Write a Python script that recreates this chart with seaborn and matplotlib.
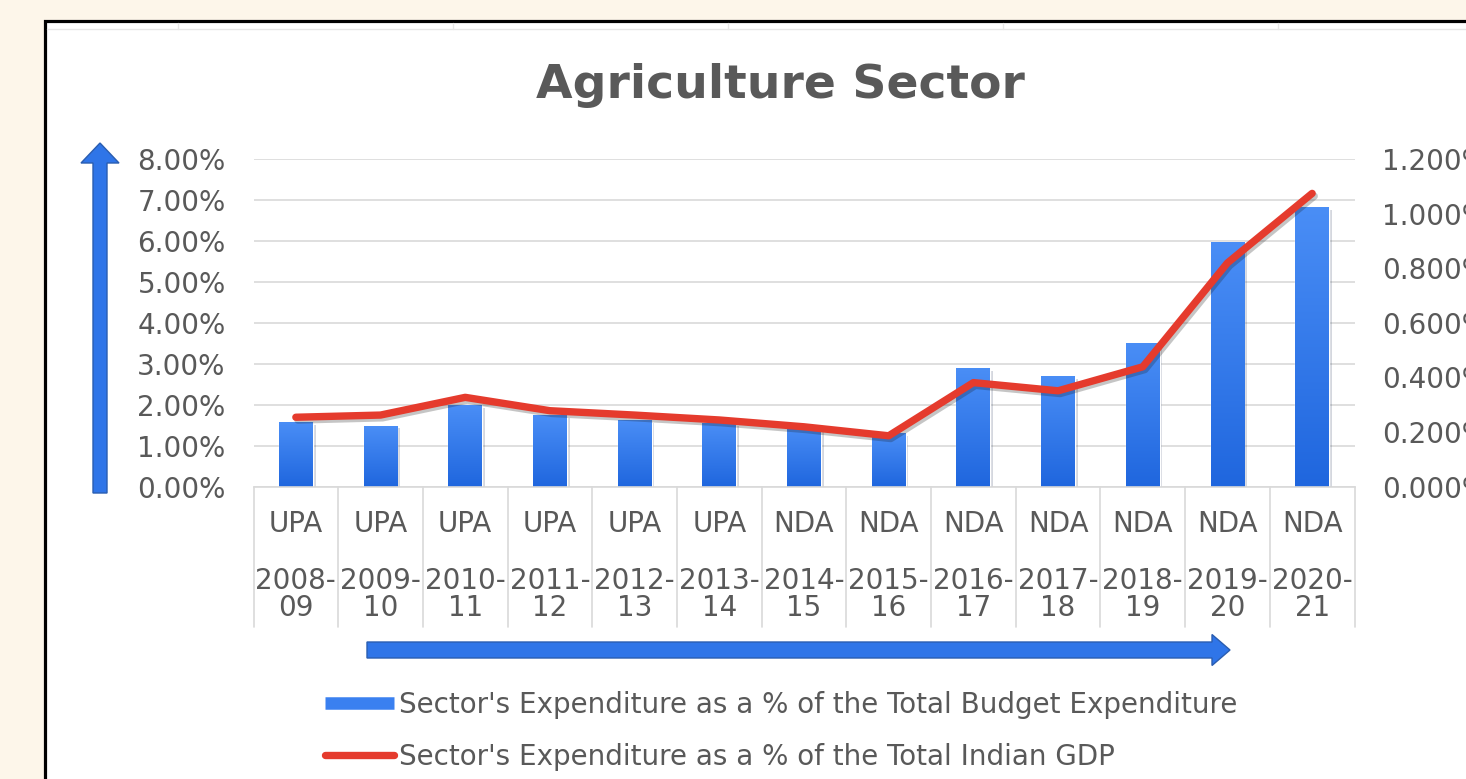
import numpy as np
import pandas as pd
import matplotlib
matplotlib.use("Agg")
import matplotlib.pyplot as plt
import matplotlib.patheffects as pe
from matplotlib.patches import Rectangle, FancyArrow
from matplotlib.lines import Line2D
from matplotlib.colors import LinearSegmentedColormap
from matplotlib.ticker import FuncFormatter
import seaborn as sns

# data
governments = ["UPA", "UPA", "UPA", "UPA", "UPA", "UPA",
               "NDA", "NDA", "NDA", "NDA", "NDA", "NDA", "NDA"]
years = ["2008-09", "2009-10", "2010-11", "2011-12", "2012-13", "2013-14",
         "2014-15", "2015-16", "2016-17", "2017-18", "2018-19", "2019-20", "2020-21"]
budget_share = [1.57, 1.49, 1.99, 1.74, 1.62, 1.55, 1.50, 1.30, 2.89, 2.69, 3.50, 5.99, 6.84]
gdp_share = [0.254, 0.262, 0.327, 0.278, 0.262, 0.244, 0.219, 0.186, 0.381, 0.351, 0.439, 0.820, 1.075]
left_ticks = [0, 1, 2, 3, 4, 5, 6, 7, 8]
right_ticks = [0.0, 0.2, 0.4, 0.6, 0.8, 1.0, 1.2]

title = "Agriculture Sector"
bar_label = "Sector's Expenditure as a % of the Total Budget Expenditure"
line_label = "Sector's Expenditure as a % of the Total Indian GDP"

W, H = 1466, 779
GRAY_TXT = "#595959"
GRID = "#D9D9D9"
BLUE = "#3A80F0"
RED = "#E53B2D"

sns.set_theme(style="white")
plt.rcParams["font.family"] = ["DejaVu Sans"]

df = pd.DataFrame({"gov": governments, "year": years,
                   "budget": budget_share, "gdp": gdp_share})

fig = plt.figure(figsize=(W / 100, H / 100), dpi=100, facecolor="#FDF6EA")

# background: white chart area with black frame, arrows (pixel coords)
bg = fig.add_axes([0, 0, 1, 1], zorder=0)
bg.set_xlim(0, W)
bg.set_ylim(H, 0)
bg.axis("off")
bg.add_patch(Rectangle((45, 21), W, H, facecolor="white", edgecolor="black", lw=2.3))
bg.plot([47, W], [29, 29], color="#E6E6E6", lw=1)
for xx in [178, 453, 728, 1003, 1278]:
    bg.plot([xx, xx], [23, 29], color="#E6E6E6", lw=1)
bg.add_patch(FancyArrow(100, 493, 0, -350, width=14, head_width=38, head_length=20,
                        length_includes_head=True, fc="#2F75E8", ec="#2A5DB0", lw=1))
bg.add_patch(FancyArrow(367, 650, 863, 0, width=16, head_width=31, head_length=18,
                        length_includes_head=True, fc="#2F75E8", ec="#2A5DB0", lw=1))

# main chart
ax = fig.add_axes([253.5 / W, 1 - 486.5 / H, 1101 / W, 327.2 / H], zorder=2)
ax.patch.set_alpha(0)
sns.barplot(data=df, x="year", y="budget", ax=ax, color=BLUE, width=0.4,
            saturation=1, zorder=2)

cmap = LinearSegmentedColormap.from_list("bar", ["#1F66DE", "#4A8EF6"])
grad = np.linspace(0, 1, 256).reshape(-1, 1)
for bar in ax.patches:
    bar.set_path_effects([pe.SimplePatchShadow(offset=(2, -2), alpha=0.18), pe.Normal()])
    x0, y0 = bar.get_x(), bar.get_y()
    w, h = bar.get_width(), bar.get_height()
    im = ax.imshow(grad, origin="lower", extent=[x0, x0 + w, y0, y0 + h],
                   aspect="auto", cmap=cmap, zorder=2.5)
    im.set_clip_path(bar)

ax.set_xlim(-0.5, 12.5)
ax.set_ylim(0, 8)
ax.set_yticks(left_ticks)
ax.yaxis.set_major_formatter(FuncFormatter(lambda v, _: f"{v:.2f}%"))
ax.yaxis.grid(True, color=GRID, lw=1.2)
ax.set_axisbelow(True)
ax.tick_params(axis="y", length=0, pad=20, labelsize=20, labelcolor=GRAY_TXT)
ax.tick_params(axis="x", length=0, labelbottom=False)
ax.set_xlabel("")
ax.set_ylabel("")
for s in ["top", "left", "right"]:
    ax.spines[s].set_visible(False)
ax.spines["bottom"].set_color(GRID)
ax.spines["bottom"].set_linewidth(1.2)

# two-level category labels with separators
xt = ax.get_xaxis_transform()
for i in range(len(years) + 1):
    ax.plot([i - 0.5, i - 0.5], [0, -0.43], transform=xt, color=GRID, lw=1.2, clip_on=False)
for i, (g, yr) in enumerate(zip(governments, years)):
    a, b = yr.split("-")
    ax.text(i, -0.115, g, transform=xt, ha="center", va="center", fontsize=20, color=GRAY_TXT)
    ax.text(i, -0.29, a + "-", transform=xt, ha="center", va="center", fontsize=20, color=GRAY_TXT)
    ax.text(i, -0.372, b, transform=xt, ha="center", va="center", fontsize=20, color=GRAY_TXT)

# secondary axis line
ax2 = ax.twinx()
ax2.set_zorder(3)
ax2.patch.set_visible(False)
sns.lineplot(x=np.arange(len(years)), y=gdp_share, ax=ax2, color=RED, lw=5.3,
             solid_capstyle="round", solid_joinstyle="round",
             path_effects=[pe.SimpleLineShadow(offset=(1.5, -2), alpha=0.25), pe.Normal()])
ax2.set_ylim(0, 1.2)
ax2.set_yticks(right_ticks)
ax2.yaxis.set_major_formatter(FuncFormatter(lambda v, _: f"{v:.3f}%"))
ax2.tick_params(axis="y", length=0, pad=20, labelsize=20, labelcolor=GRAY_TXT)
ax2.set_ylabel("")
ax2.grid(False)
for s in ax2.spines.values():
    s.set_visible(False)
ax.set_xlim(-0.5, 12.5)

fig.text(780 / W, 1 - 86 / H, title, ha="center", va="center", fontsize=34,
         fontweight="bold", color=GRAY_TXT)

handles = [Line2D([], [], color=BLUE, lw=9, solid_capstyle="butt"),
           Line2D([], [], color=RED, lw=5.3, solid_capstyle="round")]
fig.legend(handles, [bar_label, line_label], loc="center left",
           bbox_to_anchor=(325 / W, 1 - 731 / H), frameon=False, fontsize=20,
           labelcolor=GRAY_TXT, handlelength=2.5, handletextpad=0.15,
           labelspacing=0.85, borderpad=0, borderaxespad=0)

fig.savefig("out.png", dpi=100, facecolor=fig.get_facecolor())
